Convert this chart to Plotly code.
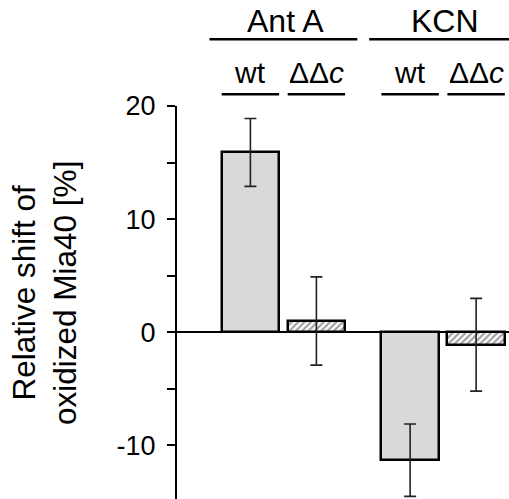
import plotly.graph_objects as go

groups = ["Ant A", "KCN"]
strains = ["wt", "ΔΔ<i>c</i>"]
values = [15.9, 1.0, -11.3, -1.1]
errors = [3.0, 3.9, 3.2, 4.1]
y_tick_vals = [-10, -5, 0, 5, 10, 15, 20]
y_tick_text = ["-10", "", "0", "", "10", "", "20"]

W, H = 509, 499
ML, MR, MT, MB = 177, 0, 106, 0
group_step = 2.42
bar_w = 0.87

xs = [g * group_step + s for g in range(len(groups)) for s in range(len(strains))]
fills = ["#d9d9db", "white", "#d9d9db", "white"]
patterns = ["", "/", "", "/"]

fig = go.Figure()
fig.add_trace(go.Bar(
    x=xs, y=values, width=bar_w,
    marker=dict(color=fills, line=dict(color="black", width=2.5),
                pattern=dict(shape=patterns, fgcolor="#1a1a1a", bgcolor="white", size=4.5, solidity=0.5)),
    error_y=dict(type="data", array=errors, visible=True, color="#222", thickness=1.6, width=6),
    showlegend=False,
))

font = "Liberation Sans, Arial, sans-serif"
plot_h = H - MT - MB

def ypaper(px):
    return (H - MB - px) / plot_h

shapes = []
annotations = []
for i, x in enumerate(xs):
    shapes.append(dict(type="line", xref="x", yref="paper", x0=x - bar_w / 2, x1=x + bar_w / 2,
                       y0=ypaper(94.3), y1=ypaper(94.3), line=dict(color="black", width=2.5)))
    annotations.append(dict(text=strains[i % 2], xref="x", yref="paper", x=x, y=ypaper(72),
                            showarrow=False, xanchor="center", yanchor="middle",
                            font=dict(size=30, color="black", family=font)))
for g, name in enumerate(groups):
    x0 = g * group_step - 0.62
    x1 = g * group_step + 1 + (0.62 if g == 0 else 0.5)
    shapes.append(dict(type="line", xref="x", yref="paper", x0=x0, x1=x1,
                       y0=ypaper(39.3), y1=ypaper(39.3), line=dict(color="black", width=2.5)))
    annotations.append(dict(text=name, xref="x", yref="paper", x=g * group_step + 0.53,
                            y=ypaper(21), showarrow=False, xanchor="center", yanchor="middle",
                            font=dict(size=32, color="black", family=font)))

annotations.append(dict(text="Relative shift of<br>oxidized Mia40 [%]", xref="paper", yref="paper",
                        x=(44 - ML) / (W - ML - MR), y=ypaper(293), textangle=-90, showarrow=False,
                        xanchor="center", yanchor="middle",
                        font=dict(size=31.5, color="black", family=font)))

fig.update_layout(
    width=W, height=H, margin=dict(l=ML, r=MR, t=MT, b=MB),
    paper_bgcolor="white", plot_bgcolor="white",
    font=dict(family=font, color="black"),
    shapes=shapes, annotations=annotations,
    xaxis=dict(range=[-1.112, 3.918], showticklabels=False, showgrid=False, zeroline=False,
               showline=False, ticks=""),
    yaxis=dict(range=[-14.73, 20], tickvals=y_tick_vals, ticktext=y_tick_text,
               ticks="outside", ticklen=8, tickwidth=2, tickcolor="black", ticklabelstandoff=6,
               showline=True, linecolor="black", linewidth=2,
               zeroline=True, zerolinecolor="black", zerolinewidth=2,
               showgrid=False, tickfont=dict(size=27, color="black", family=font)),
    bargap=0,
)

fig.write_html("out.html", config={"displayModeBar": False},
               post_script="document.body.style.margin='0';document.body.style.padding='0';"
                           "document.body.style.overflow='hidden';")
